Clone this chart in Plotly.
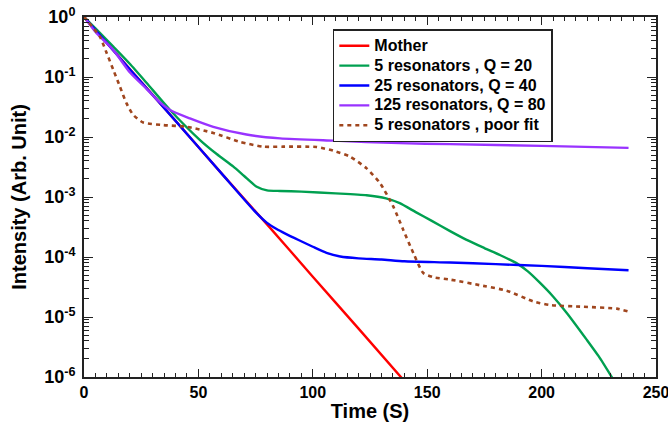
import plotly.graph_objects as go

# ---- data ----
t_mother = [0, 20, 40, 60, 80, 100, 120, 139]
i_mother = [1, 0.136, 0.0186, 2.5e-3, 3.5e-4, 4.7e-5, 6.4e-6, 9.5e-7]

t_q20 = [0, 5, 12.8, 20, 27.4, 37.6, 50.7, 58, 65.3, 70, 75.5, 80, 85.7, 95, 110,
         123.5, 132, 138, 145, 152, 160, 167, 175, 182, 189, 194, 199, 205, 211,
         219.7, 225, 231]
i_q20 = [1, 0.646, 0.32, 0.166, 0.0794, 0.0282, 8.9e-3, 5.2e-3, 3.2e-3, 2.24e-3,
         1.48e-3, 1.29e-3, 1.26e-3, 1.23e-3, 1.15e-3, 1.07e-3, 9.5e-4, 7.9e-4,
         5.6e-4, 4.0e-4, 2.7e-4, 1.95e-4, 1.41e-4, 1.07e-4, 7.9e-5, 5.75e-5, 3.8e-5,
         2.2e-5, 1.17e-5, 4.2e-6, 2.2e-6, 9.5e-7]

t_q40 = [0, 20, 40, 60, 75, 80, 84, 88, 94, 100, 106, 112, 120, 130, 140, 160,
         180, 200, 220, 238]
i_q40 = [1, 0.135, 0.0186, 2.5e-3, 5.6e-4, 3.7e-4, 2.95e-4, 2.45e-4, 1.9e-4,
         1.48e-4, 1.17e-4, 1.02e-4, 9.5e-5, 9.1e-5, 8.5e-5, 8.1e-5, 7.6e-5,
         7.1e-5, 6.5e-5, 6.0e-5]

t_q80 = [0, 5.5, 12.8, 20, 27.4, 32, 37.6, 46.3, 56.5, 71, 85.7, 109, 138, 160, 200, 238]
i_q80 = [1, 0.537, 0.282, 0.12, 0.063, 0.0417, 0.0282, 0.0204, 0.0148, 0.011,
         9.5e-3, 8.7e-3, 7.9e-3, 7.6e-3, 7.1e-3, 6.6e-3]

t_poor = [0, 1.2, 4, 7, 9.9, 12.8, 15.7, 18.6, 21.5, 25.9, 34.7, 44.8, 56.5, 68.2,
          78.4, 87, 101.7, 109, 116.3, 123.5, 129.4, 135.2, 139.6, 144, 148.3,
          152.7, 160, 174.5, 184.7, 196.4, 203.7, 218.2, 232.8, 238]
i_poor = [1, 0.89, 0.66, 0.468, 0.251, 0.132, 0.0692, 0.0363, 0.0234, 0.0174,
          0.0158, 0.0148, 0.0117, 8.3e-3, 6.9e-3, 6.9e-3, 6.8e-3, 5.9e-3, 4.7e-3,
          3.0e-3, 1.7e-3, 6.9e-4, 2.8e-4, 1.15e-4, 5.4e-5, 4.6e-5, 4.2e-5, 3.3e-5,
          2.75e-5, 1.82e-5, 1.58e-5, 1.48e-5, 1.38e-5, 1.23e-5]

y_tick_vals = [1, 1e-1, 1e-2, 1e-3, 1e-4, 1e-5, 1e-6]
y_tick_text = ["10<sup>0</sup>", "10<sup>-1</sup>", "10<sup>-2</sup>", "10<sup>-3</sup>",
               "10<sup>-4</sup>", "10<sup>-5</sup>", "10<sup>-6</sup>"]
x_tick_vals = [0, 50, 100, 150, 200, 250]

names = ["Mother", "5 resonators , Q = 20", "25 resonators, Q = 40",
         "125 resonators, Q = 80", "5 resonators , poor fit"]

# ---- figure ----
fig = go.Figure()
series = [
    (t_mother, i_mother, "#FF0000", None),
    (t_q20, i_q20, "#00A050", None),
    (t_q40, i_q40, "#0000FF", None),
    (t_q80, i_q80, "#9933FF", None),
    (t_poor, i_poor, "#A0461E", "4px,4px"),
]
for (tx, iy, col, dash), nm in zip(series, names):
    fig.add_trace(go.Scatter(
        x=tx, y=iy, mode="lines",
        name="<span style='font-size:16px'>" + nm + "</span>",
        line=dict(color=col, width=2.6 if dash else 2.4, dash=dash,
                  shape="spline", smoothing=0.6),
    ))

minor_y = []
for e in range(0, 6):
    for m in range(2, 10):
        minor_y.append(m * 10 ** (-(e + 1)))

font_fam = "Liberation Sans, Arial, sans-serif"
fig.update_layout(
    width=668, height=430,
    margin=dict(l=84, r=12, t=17, b=53),
    paper_bgcolor="white", plot_bgcolor="white",
    font=dict(family=font_fam, color="black"),
    showlegend=True,
    legend=dict(
        x=0.435, y=0.966, xanchor="left", yanchor="top",
        bgcolor="white", bordercolor="#222222", borderwidth=1.5,
        font=dict(size=13, family=font_fam, weight="bold", color="black"),
        tracegroupgap=0, itemwidth=30,
    ),
    xaxis=dict(
        range=[0, 250], tickvals=x_tick_vals, automargin=False,
        ticklabeloverflow="allow",
        ticks="inside", ticklen=8, tickwidth=1.3, tickcolor="#222222",
        showline=True, linecolor="#222222", linewidth=2, mirror="ticks",
        showgrid=False, zeroline=False,
        tickfont=dict(size=16, family=font_fam, weight="bold"),
        minor=dict(dtick=5, ticks="inside", ticklen=4, tickwidth=1.2,
                   tickcolor="#222222", showgrid=False),
        title=dict(text="Time (S)", font=dict(size=20, family=font_fam, weight="bold"),
                   standoff=4),
    ),
    yaxis=dict(
        type="log", range=[-6, 0], tickvals=y_tick_vals, ticktext=y_tick_text,
        automargin=False, ticklabelstandoff=3, ticklabeloverflow="allow",
        ticks="inside", ticklen=9, tickwidth=1.3, tickcolor="#222222",
        showline=True, linecolor="#222222", linewidth=2, mirror="ticks",
        showgrid=False, zeroline=False,
        tickfont=dict(size=18, family=font_fam, weight="bold"),
        minor=dict(tickmode="array", tickvals=minor_y, ticks="inside", ticklen=5,
                   tickwidth=1.2, tickcolor="#222222", showgrid=False),
        title=dict(text="Intensity (Arb. Unit)",
                   font=dict(size=20, family=font_fam, weight="bold"), standoff=12),
    ),
)

# remove the default 8px page margin so the figure fills the window exactly
fig.write_html("out.html", config={"displayModeBar": False},
               post_script="document.body.style.margin='0px';")
